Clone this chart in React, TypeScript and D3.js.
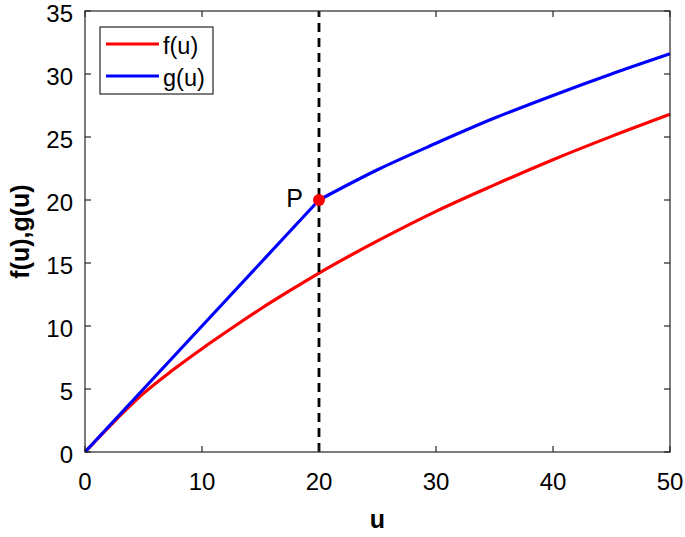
import React from "react";
import * as d3 from "d3";

const uValues = [0, 2.5, 5, 7.5, 10, 12.5, 15, 17.5, 20, 25, 30, 35, 40, 45, 50];
const fValues = [0, 2.42, 4.65, 6.5, 8.2, 9.8, 11.35, 12.8, 14.2, 16.75, 19.1, 21.2, 23.2, 25.05, 26.8];
const gValues = [0, 2.5, 5, 7.5, 10, 12.5, 15, 17.5, 20, 22.4, 24.5, 26.5, 28.3, 30.0, 31.6];
const xTicks = [0, 10, 20, 30, 40, 50];
const yTicks = [0, 5, 10, 15, 20, 25, 30, 35];
const pointP = { u: 20, v: 20, label: "P" };
const seriesNames = ["f(u)", "g(u)"];
const seriesColors = ["#ff0000", "#0000ff"];

const W = 685;
const H = 537;

export default function App() {
  const x = d3.scaleLinear().domain([0, 50]).range([85, 670]);
  const y = d3.scaleLinear().domain([0, 35]).range([452, 11]);
  const line = d3
    .line<[number, number]>()
    .x((d) => x(d[0]))
    .y((d) => y(d[1]))
    .curve(d3.curveMonotoneX);
  const fPts = uValues.map((u, i) => [u, fValues[i]] as [number, number]);
  const gLin = uValues
    .map((u, i) => [u, gValues[i]] as [number, number])
    .filter((d) => d[0] <= 20);
  const gCurve = uValues
    .map((u, i) => [u, gValues[i]] as [number, number])
    .filter((d) => d[0] >= 20);
  const gPath =
    (d3.line<[number, number]>().x((d) => x(d[0])).y((d) => y(d[1]))(gLin) || "") +
    (line(gCurve) || "").replace(/^M/, "L");

  const axisColor = "#262626";
  const font = "Liberation Sans, Arial, Helvetica, sans-serif";
  const x0 = x(0), x1 = x(50), y0 = y(0), y1 = y(35);
  const tl = 6;

  return (
    <svg width={W} height={H} style={{ position: "absolute", left: 0, top: 0, background: "#fff" }}>
      <rect x={0} y={0} width={W} height={H} fill="#fff" />
      <path d={line(fPts) || ""} fill="none" stroke={seriesColors[0]} strokeWidth={3.2} />
      <path d={gPath} fill="none" stroke={seriesColors[1]} strokeWidth={3.2} strokeLinejoin="round" />
      <line x1={x(20)} x2={x(20)} y1={y0} y2={y1} stroke="#000" strokeWidth={2.8} strokeDasharray="9,6" />
      <circle cx={x(pointP.u)} cy={y(pointP.v)} r={6} fill="#ff0000" />
      <text x={x(pointP.u) - 16} y={y(pointP.v) + 7} textAnchor="end" fontFamily={font} fontSize={25} fill="#000">
        {pointP.label}
      </text>
      <rect x={x0} y={y1} width={x1 - x0} height={y0 - y1} fill="none" stroke={axisColor} strokeWidth={1.2} />
      {xTicks.map((t) => (
        <g key={"xt" + t}>
          <line x1={x(t)} x2={x(t)} y1={y0} y2={y0 - tl} stroke={axisColor} strokeWidth={1.2} />
          <line x1={x(t)} x2={x(t)} y1={y1} y2={y1 + tl} stroke={axisColor} strokeWidth={1.2} />
          <text x={x(t)} y={490} textAnchor="middle" fontFamily={font} fontSize={24} fill="#000">
            {t}
          </text>
        </g>
      ))}
      {yTicks.map((t) => (
        <g key={"yt" + t}>
          <line x1={x0} x2={x0 + tl} y1={y(t)} y2={y(t)} stroke={axisColor} strokeWidth={1.2} />
          <line x1={x1} x2={x1 - tl} y1={y(t)} y2={y(t)} stroke={axisColor} strokeWidth={1.2} />
          <text x={73} y={y(t) + 10.5} textAnchor="end" fontFamily={font} fontSize={24} fill="#000">
            {t}
          </text>
        </g>
      ))}
      <text x={(x0 + x1) / 2} y={528} textAnchor="middle" fontFamily={font} fontSize={25} fontWeight="bold" fill="#000">
        u
      </text>
      <text
        transform={`translate(29, ${(y0 + y1) / 2}) rotate(-90)`}
        textAnchor="middle"
        fontFamily={font}
        fontSize={25}
        fontWeight="bold"
        fill="#000"
      >
        f(u),g(u)
      </text>
      <rect x={100} y={27} width={113} height={67} fill="#fff" stroke={axisColor} strokeWidth={1.2} />
      {seriesNames.map((n, i) => (
        <g key={n}>
          <line x1={106} x2={159} y1={44 + i * 32} y2={44 + i * 32} stroke={seriesColors[i]} strokeWidth={3.2} />
          <text x={163} y={44 + i * 32 + 9.5} fontFamily={font} fontSize={23.5} fill="#000">
            {n}
          </text>
        </g>
      ))}
    </svg>
  );
}
